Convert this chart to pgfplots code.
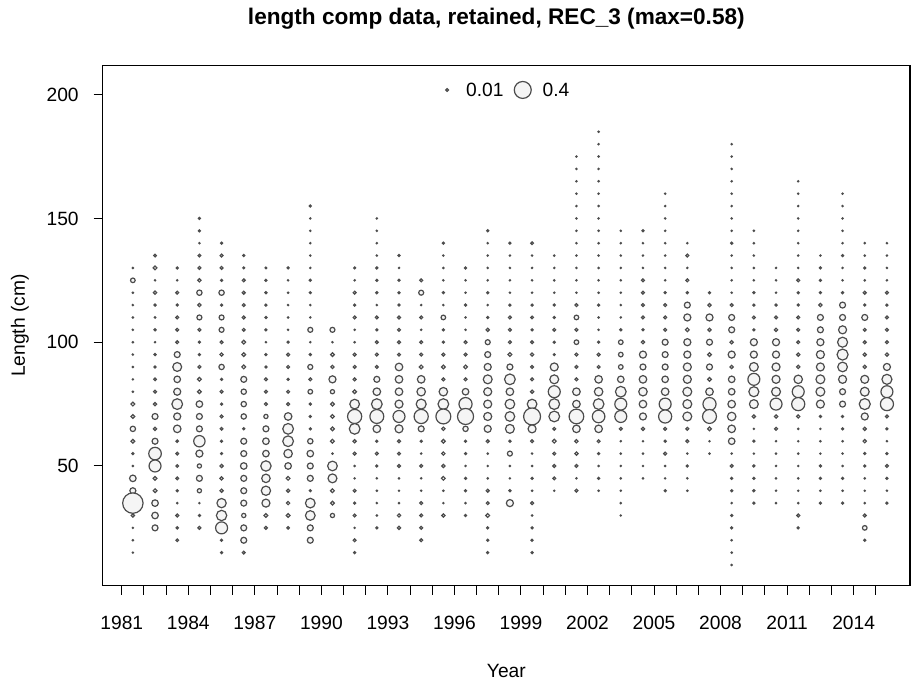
\documentclass[border=0pt]{standalone}
\usepackage{pgfplots}
\pgfplotsset{compat=1.18}
\usepackage{fontspec}
\setmainfont{Liberation Sans}
\definecolor{bubline}{gray}{0.3}
\definecolor{bubfill}{gray}{0.96}
\newcommand{\tickfont}{\fontsize{9.6}{11.5}\selectfont}
\begin{document}
\begin{tikzpicture}
\begin{axis}[
  scale only axis, width=403.65pt, height=260pt,
  xmin=1980.14, xmax=2016.54, ymin=1.64, ymax=211.7,
  xtick={1981,1984,...,2014}, minor xtick={1981,...,2015},
  ytick={50,100,150,200},
  xtick pos=bottom, ytick pos=left, tick align=outside,
  major tick length=4.5pt, minor tick length=4.5pt,
  every tick/.style={black, line width=0.5pt},
  axis line style={line width=0.6pt},
  /pgf/number format/1000 sep={},
  /pgf/number format/assume math mode=true,
  tick label style={font=\tickfont},
  xticklabel shift=7pt, yticklabel shift=4pt,
  title={length comp data, retained, REC\_3 (max=0.58)},
  every axis title/.style={at={([xshift=-5pt]rel axis cs:0.5,1)}, yshift=23.35pt, anchor=center, font=\fontsize{11.3}{13}\selectfont\bfseries},
  xlabel={Year}, ylabel={Length (cm)},
  every axis x label/.style={at={(rel axis cs:0.5,0)}, yshift=-42.65pt, anchor=center, font=\tickfont},
  every axis y label/.style={at={([xshift=-41.35pt]rel axis cs:0,0.5)}, rotate=90, anchor=center, font=\tickfont},
]
\addplot[scatter, only marks, mark=*,
  point meta=\thisrow{p},
  scatter/use mapped color={draw=bubline, fill=bubfill},
  visualization depends on={6.7*sqrt(\thisrow{p}) \as \rad},
  scatter/@pre marker code/.append style={/tikz/mark size=\rad},
  mark options={line width=0.6pt}]
table[row sep=\\] {
x y p\\
1981.5 130 0.002\\ 1981.5 125 0.03\\ 1981.5 120 0.002\\ 1981.5 115 0.002\\ 1981.5 110 0.002\\ 1981.5 105 0.002\\ 1981.5 100 0.002\\ 1981.5 95 0.002\\ 1981.5 90 0.002\\ 1981.5 85 0.002\\ 1981.5 80 0.002\\ 1981.5 75 0.02\\ 1981.5 70 0.02\\ 1981.5 65 0.04\\ 1981.5 60 0.02\\ 1981.5 55 0.006\\ 1981.5 50 0.002\\ 1981.5 45 0.06\\ 1981.5 40 0.05\\ 1981.5 35 0.58\\ 1981.5 30 0.015\\ 1981.5 25 0.002\\ 1981.5 20 0.002\\ 1981.5 15 0.002\\
1982.5 135 0.01\\ 1982.5 130 0.02\\ 1982.5 125 0.002\\ 1982.5 120 0.015\\ 1982.5 115 0.006\\ 1982.5 110 0.003\\ 1982.5 105 0.006\\ 1982.5 100 0.002\\ 1982.5 95 0.006\\ 1982.5 90 0.006\\ 1982.5 85 0.01\\ 1982.5 80 0.012\\ 1982.5 75 0.015\\ 1982.5 70 0.05\\ 1982.5 65 0.015\\ 1982.5 60 0.05\\ 1982.5 55 0.22\\ 1982.5 50 0.2\\ 1982.5 45 0.02\\ 1982.5 40 0.02\\ 1982.5 35 0.06\\ 1982.5 30 0.06\\ 1982.5 25 0.05\\
1983.5 130 0.006\\ 1983.5 125 0.002\\ 1983.5 120 0.012\\ 1983.5 115 0.006\\ 1983.5 110 0.012\\ 1983.5 105 0.012\\ 1983.5 100 0.012\\ 1983.5 95 0.05\\ 1983.5 90 0.11\\ 1983.5 85 0.06\\ 1983.5 80 0.07\\ 1983.5 75 0.16\\ 1983.5 70 0.07\\ 1983.5 65 0.08\\ 1983.5 60 0.008\\ 1983.5 55 0.01\\ 1983.5 50 0.01\\ 1983.5 45 0.01\\ 1983.5 40 0.005\\ 1983.5 35 0.002\\ 1983.5 30 0.012\\ 1983.5 25 0.008\\ 1983.5 20 0.01\\
1984.5 150 0.006\\ 1984.5 145 0.006\\ 1984.5 140 0.002\\ 1984.5 135 0.01\\ 1984.5 130 0.012\\ 1984.5 125 0.015\\ 1984.5 120 0.04\\ 1984.5 115 0.015\\ 1984.5 110 0.035\\ 1984.5 105 0.012\\ 1984.5 100 0.006\\ 1984.5 95 0.006\\ 1984.5 90 0.012\\ 1984.5 85 0.02\\ 1984.5 80 0.02\\ 1984.5 75 0.06\\ 1984.5 70 0.05\\ 1984.5 65 0.05\\ 1984.5 60 0.18\\ 1984.5 55 0.07\\ 1984.5 50 0.025\\ 1984.5 45 0.05\\ 1984.5 40 0.025\\ 1984.5 35 0.002\\ 1984.5 30 0.006\\ 1984.5 25 0.012\\
1985.5 140 0.006\\ 1985.5 135 0.012\\ 1985.5 130 0.012\\ 1985.5 125 0.006\\ 1985.5 120 0.04\\ 1985.5 115 0.006\\ 1985.5 110 0.035\\ 1985.5 105 0.035\\ 1985.5 100 0.012\\ 1985.5 95 0.015\\ 1985.5 90 0.04\\ 1985.5 85 0.006\\ 1985.5 80 0.012\\ 1985.5 75 0.006\\ 1985.5 70 0.012\\ 1985.5 65 0.01\\ 1985.5 60 0.006\\ 1985.5 55 0.005\\ 1985.5 50 0.015\\ 1985.5 45 0.015\\ 1985.5 40 0.015\\ 1985.5 35 0.12\\ 1985.5 30 0.15\\ 1985.5 25 0.2\\ 1985.5 20 0.006\\ 1985.5 15 0.006\\
1986.5 135 0.006\\ 1986.5 130 0.005\\ 1986.5 125 0.012\\ 1986.5 120 0.012\\ 1986.5 115 0.012\\ 1986.5 110 0.012\\ 1986.5 105 0.012\\ 1986.5 100 0.02\\ 1986.5 95 0.02\\ 1986.5 90 0.02\\ 1986.5 85 0.05\\ 1986.5 80 0.04\\ 1986.5 75 0.04\\ 1986.5 70 0.04\\ 1986.5 65 0.006\\ 1986.5 60 0.05\\ 1986.5 55 0.05\\ 1986.5 50 0.06\\ 1986.5 45 0.05\\ 1986.5 40 0.05\\ 1986.5 35 0.05\\ 1986.5 30 0.025\\ 1986.5 25 0.05\\ 1986.5 20 0.05\\ 1986.5 15 0.012\\
1987.5 130 0.004\\ 1987.5 125 0.006\\ 1987.5 120 0.006\\ 1987.5 115 0.006\\ 1987.5 110 0.006\\ 1987.5 105 0.006\\ 1987.5 100 0.002\\ 1987.5 95 0.006\\ 1987.5 90 0.006\\ 1987.5 85 0.012\\ 1987.5 80 0.012\\ 1987.5 75 0.012\\ 1987.5 70 0.025\\ 1987.5 65 0.05\\ 1987.5 60 0.06\\ 1987.5 55 0.06\\ 1987.5 50 0.15\\ 1987.5 45 0.1\\ 1987.5 40 0.12\\ 1987.5 35 0.09\\ 1987.5 30 0.02\\ 1987.5 25 0.012\\
1988.5 130 0.006\\ 1988.5 125 0.002\\ 1988.5 120 0.002\\ 1988.5 115 0.002\\ 1988.5 110 0.002\\ 1988.5 105 0.002\\ 1988.5 100 0.006\\ 1988.5 95 0.012\\ 1988.5 90 0.012\\ 1988.5 85 0.006\\ 1988.5 80 0.012\\ 1988.5 75 0.012\\ 1988.5 70 0.08\\ 1988.5 65 0.16\\ 1988.5 60 0.16\\ 1988.5 55 0.1\\ 1988.5 50 0.06\\ 1988.5 45 0.02\\ 1988.5 40 0.015\\ 1988.5 35 0.015\\ 1988.5 30 0.02\\ 1988.5 25 0.008\\
1989.5 155 0.006\\ 1989.5 150 0.002\\ 1989.5 145 0.002\\ 1989.5 140 0.002\\ 1989.5 135 0.002\\ 1989.5 130 0.002\\ 1989.5 125 0.006\\ 1989.5 120 0.005\\ 1989.5 115 0.002\\ 1989.5 110 0.002\\ 1989.5 105 0.035\\ 1989.5 100 0.002\\ 1989.5 95 0.006\\ 1989.5 90 0.035\\ 1989.5 85 0.012\\ 1989.5 80 0.03\\ 1989.5 75 0.006\\ 1989.5 70 0.006\\ 1989.5 65 0.006\\ 1989.5 60 0.04\\ 1989.5 55 0.06\\ 1989.5 50 0.05\\ 1989.5 45 0.05\\ 1989.5 40 0.005\\ 1989.5 35 0.13\\ 1989.5 30 0.13\\ 1989.5 25 0.05\\ 1989.5 20 0.05\\
1990.5 105 0.035\\ 1990.5 100 0.002\\ 1990.5 95 0.02\\ 1990.5 90 0.015\\ 1990.5 85 0.07\\ 1990.5 80 0.025\\ 1990.5 75 0.02\\ 1990.5 70 0.02\\ 1990.5 65 0.02\\ 1990.5 60 0.02\\ 1990.5 55 0.002\\ 1990.5 50 0.13\\ 1990.5 45 0.11\\ 1990.5 40 0.02\\ 1990.5 35 0.02\\ 1990.5 30 0.025\\
1991.5 130 0.005\\ 1991.5 125 0.002\\ 1991.5 120 0.012\\ 1991.5 115 0.006\\ 1991.5 110 0.012\\ 1991.5 105 0.002\\ 1991.5 100 0.002\\ 1991.5 95 0.012\\ 1991.5 90 0.012\\ 1991.5 85 0.012\\ 1991.5 80 0.02\\ 1991.5 75 0.13\\ 1991.5 70 0.28\\ 1991.5 65 0.16\\ 1991.5 60 0.015\\ 1991.5 55 0.012\\ 1991.5 50 0.002\\ 1991.5 45 0.002\\ 1991.5 40 0.012\\ 1991.5 35 0.006\\ 1991.5 30 0.012\\ 1991.5 25 0.002\\ 1991.5 20 0.012\\ 1991.5 15 0.006\\
1992.5 150 0.002\\ 1992.5 145 0.002\\ 1992.5 140 0.002\\ 1992.5 135 0.002\\ 1992.5 130 0.006\\ 1992.5 125 0.006\\ 1992.5 120 0.006\\ 1992.5 115 0.002\\ 1992.5 110 0.012\\ 1992.5 105 0.006\\ 1992.5 100 0.012\\ 1992.5 95 0.012\\ 1992.5 90 0.012\\ 1992.5 85 0.05\\ 1992.5 80 0.08\\ 1992.5 75 0.16\\ 1992.5 70 0.27\\ 1992.5 65 0.08\\ 1992.5 60 0.006\\ 1992.5 55 0.012\\ 1992.5 50 0.006\\ 1992.5 45 0.002\\ 1992.5 40 0.002\\ 1992.5 35 0.002\\ 1992.5 30 0.002\\ 1992.5 25 0.006\\
1993.5 135 0.006\\ 1993.5 130 0.002\\ 1993.5 125 0.006\\ 1993.5 120 0.006\\ 1993.5 115 0.006\\ 1993.5 110 0.012\\ 1993.5 105 0.012\\ 1993.5 100 0.012\\ 1993.5 95 0.012\\ 1993.5 90 0.08\\ 1993.5 85 0.08\\ 1993.5 80 0.08\\ 1993.5 75 0.09\\ 1993.5 70 0.2\\ 1993.5 65 0.09\\ 1993.5 60 0.012\\ 1993.5 55 0.012\\ 1993.5 50 0.012\\ 1993.5 45 0.002\\ 1993.5 40 0.002\\ 1993.5 35 0.002\\ 1993.5 30 0.015\\ 1993.5 25 0.015\\
1994.5 125 0.012\\ 1994.5 120 0.035\\ 1994.5 115 0.002\\ 1994.5 110 0.012\\ 1994.5 105 0.002\\ 1994.5 100 0.012\\ 1994.5 95 0.012\\ 1994.5 90 0.02\\ 1994.5 85 0.08\\ 1994.5 80 0.1\\ 1994.5 75 0.14\\ 1994.5 70 0.28\\ 1994.5 65 0.05\\ 1994.5 60 0.006\\ 1994.5 55 0.002\\ 1994.5 50 0.012\\ 1994.5 45 0.002\\ 1994.5 40 0.002\\ 1994.5 35 0.012\\ 1994.5 30 0.012\\ 1994.5 25 0.012\\ 1994.5 20 0.012\\
1995.5 140 0.006\\ 1995.5 135 0.002\\ 1995.5 130 0.002\\ 1995.5 125 0.002\\ 1995.5 120 0.006\\ 1995.5 115 0.002\\ 1995.5 110 0.03\\ 1995.5 105 0.006\\ 1995.5 100 0.006\\ 1995.5 95 0.012\\ 1995.5 90 0.02\\ 1995.5 85 0.012\\ 1995.5 80 0.1\\ 1995.5 75 0.16\\ 1995.5 70 0.31\\ 1995.5 65 0.015\\ 1995.5 60 0.02\\ 1995.5 55 0.015\\ 1995.5 50 0.015\\ 1995.5 45 0.02\\ 1995.5 40 0.002\\ 1995.5 35 0.002\\ 1995.5 30 0.015\\
1996.5 130 0.006\\ 1996.5 125 0.002\\ 1996.5 120 0.002\\ 1996.5 115 0.006\\ 1996.5 110 0.002\\ 1996.5 105 0.002\\ 1996.5 100 0.012\\ 1996.5 95 0.012\\ 1996.5 90 0.02\\ 1996.5 85 0.012\\ 1996.5 80 0.06\\ 1996.5 75 0.24\\ 1996.5 70 0.36\\ 1996.5 65 0.04\\ 1996.5 60 0.006\\ 1996.5 55 0.006\\ 1996.5 50 0.002\\ 1996.5 45 0.006\\ 1996.5 40 0.006\\ 1996.5 35 0.002\\ 1996.5 30 0.006\\
1997.5 145 0.006\\ 1997.5 140 0.002\\ 1997.5 135 0.002\\ 1997.5 130 0.002\\ 1997.5 125 0.002\\ 1997.5 120 0.006\\ 1997.5 115 0.002\\ 1997.5 110 0.006\\ 1997.5 105 0.015\\ 1997.5 100 0.035\\ 1997.5 95 0.05\\ 1997.5 90 0.07\\ 1997.5 85 0.11\\ 1997.5 80 0.09\\ 1997.5 75 0.09\\ 1997.5 70 0.09\\ 1997.5 65 0.07\\ 1997.5 60 0.012\\ 1997.5 55 0.002\\ 1997.5 50 0.002\\ 1997.5 45 0.002\\ 1997.5 40 0.012\\ 1997.5 35 0.012\\ 1997.5 30 0.02\\ 1997.5 25 0.006\\ 1997.5 20 0.006\\ 1997.5 15 0.006\\
1998.5 140 0.006\\ 1998.5 135 0.002\\ 1998.5 130 0.002\\ 1998.5 125 0.002\\ 1998.5 120 0.002\\ 1998.5 115 0.006\\ 1998.5 110 0.012\\ 1998.5 105 0.012\\ 1998.5 100 0.012\\ 1998.5 95 0.02\\ 1998.5 90 0.05\\ 1998.5 85 0.16\\ 1998.5 80 0.08\\ 1998.5 75 0.13\\ 1998.5 70 0.13\\ 1998.5 65 0.11\\ 1998.5 60 0.006\\ 1998.5 55 0.035\\ 1998.5 50 0.002\\ 1998.5 45 0.002\\ 1998.5 40 0.006\\ 1998.5 35 0.07\\
1999.5 140 0.01\\ 1999.5 135 0.002\\ 1999.5 130 0.002\\ 1999.5 125 0.002\\ 1999.5 120 0.002\\ 1999.5 115 0.006\\ 1999.5 110 0.01\\ 1999.5 105 0.006\\ 1999.5 100 0.012\\ 1999.5 95 0.015\\ 1999.5 90 0.012\\ 1999.5 85 0.012\\ 1999.5 80 0.015\\ 1999.5 75 0.13\\ 1999.5 70 0.4\\ 1999.5 65 0.09\\ 1999.5 60 0.012\\ 1999.5 55 0.002\\ 1999.5 50 0.002\\ 1999.5 45 0.006\\ 1999.5 40 0.002\\ 1999.5 35 0.012\\ 1999.5 30 0.002\\ 1999.5 25 0.006\\ 1999.5 20 0.006\\ 1999.5 15 0.006\\
2000.5 135 0.002\\ 2000.5 130 0.002\\ 2000.5 125 0.002\\ 2000.5 120 0.002\\ 2000.5 115 0.006\\ 2000.5 110 0.006\\ 2000.5 105 0.012\\ 2000.5 100 0.006\\ 2000.5 95 0.004\\ 2000.5 90 0.09\\ 2000.5 85 0.11\\ 2000.5 80 0.2\\ 2000.5 75 0.16\\ 2000.5 70 0.16\\ 2000.5 65 0.012\\ 2000.5 60 0.02\\ 2000.5 55 0.012\\ 2000.5 50 0.012\\ 2000.5 45 0.012\\ 2000.5 40 0.002\\
2001.5 175 0.002\\ 2001.5 170 0.002\\ 2001.5 165 0.002\\ 2001.5 160 0.002\\ 2001.5 155 0.002\\ 2001.5 150 0.002\\ 2001.5 145 0.002\\ 2001.5 140 0.002\\ 2001.5 135 0.002\\ 2001.5 130 0.002\\ 2001.5 125 0.002\\ 2001.5 120 0.002\\ 2001.5 115 0.012\\ 2001.5 110 0.03\\ 2001.5 105 0.012\\ 2001.5 100 0.03\\ 2001.5 95 0.012\\ 2001.5 90 0.012\\ 2001.5 85 0.012\\ 2001.5 80 0.08\\ 2001.5 75 0.08\\ 2001.5 70 0.3\\ 2001.5 65 0.08\\ 2001.5 60 0.015\\ 2001.5 55 0.015\\ 2001.5 50 0.012\\ 2001.5 45 0.002\\ 2001.5 40 0.012\\
2002.5 185 0.002\\ 2002.5 180 0.002\\ 2002.5 175 0.002\\ 2002.5 170 0.002\\ 2002.5 165 0.002\\ 2002.5 160 0.002\\ 2002.5 155 0.002\\ 2002.5 150 0.002\\ 2002.5 145 0.002\\ 2002.5 140 0.002\\ 2002.5 135 0.002\\ 2002.5 130 0.002\\ 2002.5 125 0.002\\ 2002.5 120 0.002\\ 2002.5 115 0.006\\ 2002.5 110 0.002\\ 2002.5 105 0.002\\ 2002.5 100 0.006\\ 2002.5 95 0.012\\ 2002.5 90 0.012\\ 2002.5 85 0.08\\ 2002.5 80 0.1\\ 2002.5 75 0.16\\ 2002.5 70 0.22\\ 2002.5 65 0.08\\ 2002.5 60 0.012\\ 2002.5 55 0.006\\ 2002.5 50 0.002\\ 2002.5 45 0.006\\ 2002.5 40 0.002\\
2003.5 145 0.002\\ 2003.5 140 0.002\\ 2003.5 135 0.002\\ 2003.5 130 0.002\\ 2003.5 125 0.002\\ 2003.5 120 0.002\\ 2003.5 115 0.002\\ 2003.5 110 0.002\\ 2003.5 105 0.006\\ 2003.5 100 0.03\\ 2003.5 95 0.03\\ 2003.5 90 0.03\\ 2003.5 85 0.06\\ 2003.5 80 0.16\\ 2003.5 75 0.2\\ 2003.5 70 0.2\\ 2003.5 65 0.012\\ 2003.5 60 0.002\\ 2003.5 55 0.002\\ 2003.5 50 0.002\\ 2003.5 45 0.002\\ 2003.5 40 0.002\\ 2003.5 35 0.002\\ 2003.5 30 0.002\\
2004.5 145 0.006\\ 2004.5 140 0.002\\ 2004.5 135 0.002\\ 2004.5 130 0.002\\ 2004.5 125 0.012\\ 2004.5 120 0.012\\ 2004.5 115 0.012\\ 2004.5 110 0.012\\ 2004.5 105 0.006\\ 2004.5 100 0.015\\ 2004.5 95 0.07\\ 2004.5 90 0.05\\ 2004.5 85 0.08\\ 2004.5 80 0.1\\ 2004.5 75 0.08\\ 2004.5 70 0.07\\ 2004.5 65 0.015\\ 2004.5 60 0.002\\ 2004.5 55 0.002\\ 2004.5 50 0.002\\ 2004.5 45 0.002\\
2005.5 160 0.002\\ 2005.5 155 0.002\\ 2005.5 150 0.002\\ 2005.5 145 0.002\\ 2005.5 140 0.002\\ 2005.5 135 0.002\\ 2005.5 130 0.002\\ 2005.5 125 0.002\\ 2005.5 120 0.006\\ 2005.5 115 0.012\\ 2005.5 110 0.012\\ 2005.5 105 0.012\\ 2005.5 100 0.05\\ 2005.5 95 0.05\\ 2005.5 90 0.05\\ 2005.5 85 0.06\\ 2005.5 80 0.08\\ 2005.5 75 0.2\\ 2005.5 70 0.24\\ 2005.5 65 0.012\\ 2005.5 60 0.006\\ 2005.5 55 0.012\\ 2005.5 50 0.002\\ 2005.5 45 0.002\\ 2005.5 40 0.006\\
2006.5 140 0.002\\ 2006.5 135 0.012\\ 2006.5 130 0.002\\ 2006.5 125 0.012\\ 2006.5 120 0.006\\ 2006.5 115 0.05\\ 2006.5 110 0.07\\ 2006.5 105 0.02\\ 2006.5 100 0.07\\ 2006.5 95 0.07\\ 2006.5 90 0.09\\ 2006.5 85 0.09\\ 2006.5 80 0.11\\ 2006.5 75 0.11\\ 2006.5 70 0.11\\ 2006.5 65 0.012\\ 2006.5 60 0.012\\ 2006.5 55 0.002\\ 2006.5 50 0.006\\ 2006.5 45 0.002\\ 2006.5 40 0.002\\
2007.5 120 0.006\\ 2007.5 115 0.015\\ 2007.5 110 0.07\\ 2007.5 105 0.015\\ 2007.5 100 0.05\\ 2007.5 95 0.02\\ 2007.5 90 0.05\\ 2007.5 85 0.02\\ 2007.5 80 0.08\\ 2007.5 75 0.24\\ 2007.5 70 0.27\\ 2007.5 65 0.02\\ 2007.5 60 0.002\\ 2007.5 55 0.002\\
2008.5 180 0.002\\ 2008.5 175 0.002\\ 2008.5 170 0.002\\ 2008.5 165 0.002\\ 2008.5 160 0.002\\ 2008.5 155 0.002\\ 2008.5 150 0.002\\ 2008.5 145 0.002\\ 2008.5 140 0.006\\ 2008.5 135 0.002\\ 2008.5 130 0.002\\ 2008.5 125 0.002\\ 2008.5 120 0.002\\ 2008.5 115 0.012\\ 2008.5 110 0.05\\ 2008.5 105 0.05\\ 2008.5 100 0.015\\ 2008.5 95 0.07\\ 2008.5 90 0.015\\ 2008.5 85 0.06\\ 2008.5 80 0.06\\ 2008.5 75 0.08\\ 2008.5 70 0.1\\ 2008.5 65 0.08\\ 2008.5 60 0.06\\ 2008.5 55 0.002\\ 2008.5 50 0.012\\ 2008.5 45 0.006\\ 2008.5 40 0.006\\ 2008.5 35 0.002\\ 2008.5 30 0.006\\ 2008.5 25 0.006\\ 2008.5 20 0.002\\ 2008.5 15 0.002\\ 2008.5 10 0.002\\
2009.5 145 0.002\\ 2009.5 140 0.002\\ 2009.5 135 0.002\\ 2009.5 130 0.002\\ 2009.5 125 0.002\\ 2009.5 120 0.006\\ 2009.5 115 0.006\\ 2009.5 110 0.012\\ 2009.5 105 0.006\\ 2009.5 100 0.07\\ 2009.5 95 0.07\\ 2009.5 90 0.11\\ 2009.5 85 0.2\\ 2009.5 80 0.14\\ 2009.5 75 0.11\\ 2009.5 70 0.015\\ 2009.5 65 0.002\\ 2009.5 60 0.006\\ 2009.5 55 0.002\\ 2009.5 50 0.006\\ 2009.5 45 0.006\\ 2009.5 40 0.006\\ 2009.5 35 0.006\\
2010.5 130 0.002\\ 2010.5 125 0.002\\ 2010.5 120 0.002\\ 2010.5 115 0.006\\ 2010.5 110 0.012\\ 2010.5 105 0.015\\ 2010.5 100 0.07\\ 2010.5 95 0.07\\ 2010.5 90 0.09\\ 2010.5 85 0.09\\ 2010.5 80 0.11\\ 2010.5 75 0.2\\ 2010.5 70 0.015\\ 2010.5 65 0.012\\ 2010.5 60 0.002\\ 2010.5 55 0.002\\ 2010.5 50 0.002\\ 2010.5 45 0.002\\ 2010.5 40 0.002\\ 2010.5 35 0.002\\
2011.5 165 0.002\\ 2011.5 160 0.002\\ 2011.5 155 0.002\\ 2011.5 150 0.002\\ 2011.5 145 0.002\\ 2011.5 140 0.002\\ 2011.5 135 0.002\\ 2011.5 130 0.002\\ 2011.5 125 0.012\\ 2011.5 120 0.006\\ 2011.5 115 0.006\\ 2011.5 110 0.012\\ 2011.5 105 0.012\\ 2011.5 100 0.012\\ 2011.5 95 0.015\\ 2011.5 90 0.015\\ 2011.5 85 0.1\\ 2011.5 80 0.2\\ 2011.5 75 0.24\\ 2011.5 70 0.015\\ 2011.5 65 0.002\\ 2011.5 60 0.002\\ 2011.5 55 0.002\\ 2011.5 50 0.002\\ 2011.5 45 0.002\\ 2011.5 40 0.002\\ 2011.5 35 0.002\\ 2011.5 30 0.012\\ 2011.5 25 0.006\\
2012.5 135 0.002\\ 2012.5 130 0.006\\ 2012.5 125 0.006\\ 2012.5 120 0.006\\ 2012.5 115 0.015\\ 2012.5 110 0.05\\ 2012.5 105 0.05\\ 2012.5 100 0.07\\ 2012.5 95 0.09\\ 2012.5 90 0.09\\ 2012.5 85 0.11\\ 2012.5 80 0.11\\ 2012.5 75 0.09\\ 2012.5 70 0.006\\ 2012.5 65 0.002\\ 2012.5 60 0.002\\ 2012.5 55 0.002\\ 2012.5 50 0.006\\ 2012.5 45 0.006\\ 2012.5 40 0.002\\ 2012.5 35 0.006\\
2013.5 160 0.002\\ 2013.5 155 0.002\\ 2013.5 150 0.002\\ 2013.5 145 0.002\\ 2013.5 140 0.002\\ 2013.5 135 0.006\\ 2013.5 130 0.002\\ 2013.5 125 0.002\\ 2013.5 120 0.006\\ 2013.5 115 0.05\\ 2013.5 110 0.05\\ 2013.5 105 0.09\\ 2013.5 100 0.14\\ 2013.5 95 0.17\\ 2013.5 90 0.13\\ 2013.5 85 0.09\\ 2013.5 80 0.05\\ 2013.5 75 0.05\\ 2013.5 70 0.006\\ 2013.5 65 0.006\\ 2013.5 60 0.002\\ 2013.5 55 0.002\\ 2013.5 50 0.002\\ 2013.5 45 0.006\\ 2013.5 40 0.002\\ 2013.5 35 0.006\\
2014.5 140 0.002\\ 2014.5 135 0.002\\ 2014.5 130 0.006\\ 2014.5 125 0.002\\ 2014.5 120 0.012\\ 2014.5 115 0.006\\ 2014.5 110 0.05\\ 2014.5 105 0.012\\ 2014.5 100 0.012\\ 2014.5 95 0.015\\ 2014.5 90 0.015\\ 2014.5 85 0.09\\ 2014.5 80 0.11\\ 2014.5 75 0.17\\ 2014.5 70 0.07\\ 2014.5 65 0.015\\ 2014.5 60 0.015\\ 2014.5 55 0.006\\ 2014.5 50 0.006\\ 2014.5 45 0.002\\ 2014.5 40 0.002\\ 2014.5 35 0.002\\ 2014.5 30 0.012\\ 2014.5 25 0.03\\ 2014.5 20 0.006\\
2015.5 140 0.002\\ 2015.5 135 0.002\\ 2015.5 130 0.002\\ 2015.5 125 0.002\\ 2015.5 120 0.012\\ 2015.5 115 0.006\\ 2015.5 110 0.012\\ 2015.5 105 0.012\\ 2015.5 100 0.012\\ 2015.5 95 0.015\\ 2015.5 90 0.07\\ 2015.5 85 0.14\\ 2015.5 80 0.2\\ 2015.5 75 0.24\\ 2015.5 70 0.012\\ 2015.5 65 0.006\\ 2015.5 60 0.002\\ 2015.5 55 0.006\\ 2015.5 50 0.012\\ 2015.5 45 0.006\\ 2015.5 40 0.002\\ 2015.5 35 0.006\\
};
% size legend
\addplot[scatter, only marks, mark=*,
  point meta=\thisrow{p},
  scatter/use mapped color={draw=bubline, fill=bubfill},
  visualization depends on={6.7*sqrt(\thisrow{p}) \as \rad},
  scatter/@pre marker code/.append style={/tikz/mark size=\rad},
  mark options={line width=0.6pt}]
table[row sep=\\] {
x y p\\
1995.67 201.9 0.01\\
1999.08 201.9 0.4\\
};
\node[anchor=west, inner sep=0pt, font=\tickfont] at (axis cs:1996.51,201.9) {0.01};
\node[anchor=west, inner sep=0pt, font=\tickfont] at (axis cs:1999.96,201.9) {0.4};
\end{axis}
\pgfresetboundingbox
\path[use as bounding box] ([shift={(-51.35pt,-49.65pt)}]current axis.south west) rectangle ++(456pt,342.5pt);
\end{tikzpicture}
\end{document}
